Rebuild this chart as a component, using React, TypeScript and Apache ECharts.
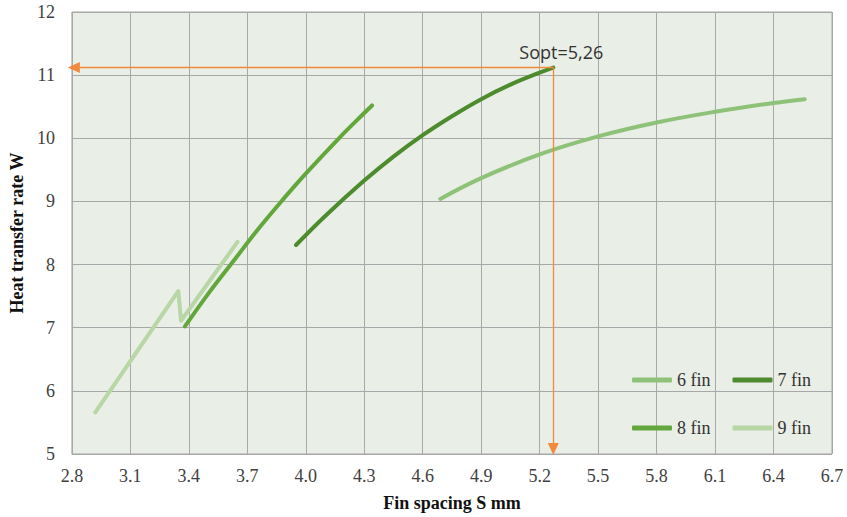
import React, { useEffect, useRef } from "react";
import * as echarts from "echarts";

// Axis ranges
const X_MIN = 2.8;
const X_MAX = 6.7;
const X_STEP = 0.3;
const Y_MIN = 5;
const Y_MAX = 12;
const Y_STEP = 1;

// Series
const seriesNames = ["6 fin", "7 fin", "8 fin", "9 fin"];
const fin6X = [4.69, 4.9, 5.2, 5.5, 5.8, 6.1, 6.4, 6.56];
const fin6Y = [9.04, 9.37, 9.745, 10.03, 10.25, 10.42, 10.56, 10.62];
const fin7X = [3.95, 4.1, 4.3, 4.45, 4.6, 4.75, 4.9, 5.05, 5.2, 5.27];
const fin7Y = [8.31, 8.77, 9.33, 9.71, 10.05, 10.35, 10.62, 10.85, 11.04, 11.12];
const fin8X = [3.38, 3.5, 3.63, 3.75, 3.88, 4.0, 4.17, 4.3, 4.34];
const fin8Y = [7.02, 7.54, 8.06, 8.54, 9.02, 9.44, 10.0, 10.4, 10.52];
const fin9X = [2.92, 3.346, 3.36, 3.65];
const fin9Y = [5.66, 7.58, 7.11, 8.36];

// Optimum annotation
const sOptX = 5.27;
const sOptY = 11.12;
const sOptLabel = "Sopt=5,26";

const xTitle = "Fin spacing S mm";
const yTitle = "Heat transfer rate W";

const COLORS = ["#8fc279", "#4e8a2e", "#63a73c", "#b8d6a6"];
const ORANGE = "#f08a3e";
const SERIF = "'Liberation Serif', 'DejaVu Serif', serif";

const zip = (xs: number[], ys: number[]) => xs.map((x, i) => [x - X_MIN, ys[i]]);

export default function App() {
  const ref = useRef<HTMLDivElement>(null);
  useEffect(() => {
    if (!ref.current) return;
    const chart = echarts.init(ref.current, undefined, { renderer: "svg" });
    const xs = [fin6X, fin7X, fin8X, fin9X];
    const ys = [fin6Y, fin7Y, fin8Y, fin9Y];
    const series: any[] = seriesNames.map((name, i) => ({
      name,
      type: "line",
      data: zip(xs[i], ys[i]),
      showSymbol: false,
      symbol: "none",
      smooth: i === 3 ? false : 0.4,
      lineStyle: { color: COLORS[i], width: 4, cap: "round", join: "round" },
      itemStyle: { color: COLORS[i] },
      z: 3,
    }));
    series.push({
      name: "annot",
      type: "line",
      data: [],
      silent: true,
      markLine: {
        silent: true,
        animation: false,
        symbol: ["none", "triangle"],
        symbolSize: [11, 12],
        lineStyle: { color: ORANGE, width: 1.3, type: "solid" },
        itemStyle: { color: ORANGE },
        label: { show: false },
        data: [
          [{ coord: [sOptX - X_MIN, sOptY] }, { coord: [0.01, sOptY] }],
          [{ coord: [sOptX - X_MIN, sOptY] }, { coord: [sOptX - X_MIN, Y_MIN + 0.08] }],
        ],
      },
      markPoint: {
        silent: true,
        animation: false,
        symbol: "circle",
        symbolSize: 1,
        itemStyle: { color: "rgba(0,0,0,0)" },
        label: {
          show: true,
          position: "top",
          distance: 6,
          offset: [8, 0],
          formatter: sOptLabel,
          color: "#333",
          fontFamily: "'Open Sans', sans-serif",
          fontSize: 18,
        },
        data: [{ coord: [sOptX - X_MIN, sOptY] }],
      },
      z: 2,
    });
    const legendBase = {
      orient: "horizontal",
      left: 627,
      icon: "roundRect",
      itemWidth: 40,
      itemHeight: 5,
      itemGap: 22,
      selectedMode: false,
      textStyle: { fontFamily: SERIF, fontSize: 18, color: "#333" },
    };
    chart.setOption({
      animation: false,
      grid: {
        left: 70,
        top: 12,
        right: 15,
        bottom: 62,
        show: true,
        backgroundColor: "#e9eee6",
        borderColor: "#a8a8a8",
        borderWidth: 1,
      },
      legend: [
        { ...legendBase, top: 366, data: ["6 fin", "7 fin"] },
        { ...legendBase, top: 414, data: ["8 fin", "9 fin"] },
      ],
      xAxis: {
        type: "value",
        min: 0,
        max: Math.round((X_MAX - X_MIN) * 10) / 10,
        interval: X_STEP,
        name: xTitle,
        nameLocation: "middle",
        nameGap: 40,
        nameTextStyle: { fontFamily: SERIF, fontSize: 18, fontWeight: "bold", color: "#111" },
        axisLine: { show: false },
        axisTick: { show: false },
        axisLabel: {
          margin: 13,
          fontFamily: SERIF,
          fontSize: 18,
          color: "#404040",
          formatter: (v: number) => (v + X_MIN).toFixed(1),
        },
        splitLine: { show: true, lineStyle: { color: "#a8a8a8", width: 1 } },
      },
      yAxis: {
        type: "value",
        min: Y_MIN,
        max: Y_MAX,
        interval: Y_STEP,
        name: yTitle,
        nameLocation: "middle",
        nameGap: 43,
        nameTextStyle: { fontFamily: SERIF, fontSize: 18, fontWeight: "bold", color: "#111" },
        axisLine: { show: false },
        axisTick: { show: false },
        axisLabel: { margin: 17, fontFamily: SERIF, fontSize: 18, color: "#404040" },
        splitLine: { show: true, lineStyle: { color: "#a8a8a8", width: 1 } },
      },
      series,
    });
    return () => chart.dispose();
  }, []);
  return (
    <div
      ref={ref}
      style={{ position: "fixed", left: 0, top: 0, width: 847, height: 517, background: "#fff" }}
    />
  );
}
